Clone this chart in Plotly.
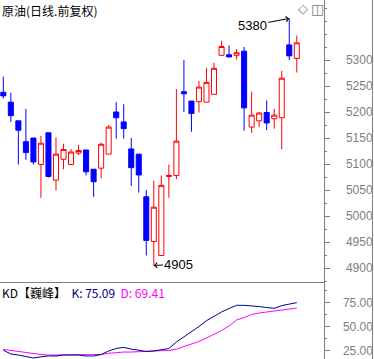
import plotly.graph_objects as go

# ---- data ----
bar_index = list(range(40))
open_prices = [5238, 5219, 5183, 5143, 5150, 5099, 5160, 5069, 5109, 5099,
               5121, 5127, 5090, 5092, 5119, 5200, 5181, 5129, 5119, 5037,
               4951, 4924, 5076, 5078, 5239, 5221, 5220, 5219, 5234, 5309,
               5310, 5309, 5317, 5171, 5183, 5199, 5187, 5189, 5329, 5303]
high_prices = [5268, 5237, 5183, 5206, 5150, 5154, 5160, 5151, 5139, 5129,
               5137, 5127, 5090, 5141, 5175, 5219, 5215, 5150, 5119, 5050,
               5068, 5078, 5099, 5244, 5300, 5221, 5260, 5285, 5295, 5337,
               5328, 5321, 5325, 5239, 5200, 5222, 5206, 5279, 5380, 5347]
low_prices = [5226, 5181, 5099, 5108, 5099, 5035, 5074, 5049, 5090, 5099,
              5117, 5078, 5037, 5072, 5119, 5149, 5149, 5058, 5045, 4924,
              4905, 4924, 5035, 5071, 5200, 5162, 5199, 5219, 5234, 5309,
              5305, 5301, 5164, 5160, 5171, 5165, 5168, 5128, 5300, 5276]
close_prices = [5231, 5193, 5165, 5122, 5104, 5140, 5076, 5119, 5128, 5123,
                5126, 5085, 5066, 5138, 5171, 5189, 5168, 5093, 5079, 4953,
                5017, 5059, 5078, 5144, 5235, 5197, 5248, 5257, 5284, 5326,
                5306, 5314, 5208, 5194, 5198, 5179, 5194, 5265, 5308, 5333]
k_values = [25.5, 21.6, 20.5, 19.0, 17.4, 18.6, 19.5, 19.5, 20.5, 20.5,
            20.5, 19.5, 19.5, 21.0, 24.7, 27.3, 28.5, 26.7, 25.2, 24.2,
            24.7, 25.7, 27.3, 34.1, 39.3, 44.5, 50.2, 56.3, 61.1, 65.3,
            69.0, 72.3, 72.3, 71.9, 71.0, 70.0, 69.2, 72.0, 73.6, 75.09]
d_values = [26.4, 25.2, 24.2, 23.1, 22.0, 21.0, 20.5, 20.5, 20.5, 20.5,
            20.5, 20.5, 20.5, 21.0, 22.3, 23.1, 23.6, 23.6, 24.2, 24.2,
            24.7, 25.0, 25.2, 26.7, 29.4, 32.0, 34.6, 38.2, 41.9, 46.0,
            50.7, 57.0, 59.6, 62.7, 64.3, 65.3, 66.0, 66.9, 68.1, 69.41]
price_tick_values = [4900, 4950, 5000, 5050, 5100, 5150, 5200, 5250, 5300]
price_grid_values = [4900, 5000, 5100, 5200, 5300]
kd_tick_values = [25, 50, 75]
kd_grid_values = [25, 50]

title_text = "原油(日线.前复权)"
kd_name = "KD【巍峰】"

GRAY = "#808080"
NUM_FONT = "Arial, Liberation Sans, sans-serif"
CJK_FONT = "Noto Sans CJK SC, sans-serif"

fig = go.Figure()

fig.add_trace(go.Candlestick(
    x=bar_index, open=open_prices, high=high_prices, low=low_prices, close=close_prices,
    increasing=dict(line=dict(color="#FF0000", width=1), fillcolor="#FFFFFF"),
    decreasing=dict(line=dict(color="#0000FF", width=1), fillcolor="#0000FF"),
    whiskerwidth=0, xaxis="x", yaxis="y", showlegend=False, hoverinfo="skip",
))
fig.add_trace(go.Scatter(x=bar_index, y=d_values, mode="lines",
                         line=dict(color="#FF00FF", width=1), xaxis="x2", yaxis="y3",
                         showlegend=False, hoverinfo="skip"))
fig.add_trace(go.Scatter(x=bar_index, y=k_values, mode="lines",
                         line=dict(color="#000080", width=1), xaxis="x2", yaxis="y3",
                         showlegend=False, hoverinfo="skip"))

XDOM = [0, 323.5 / 374]
SPLIT = 1 - 282 / 359
x_range = [-0.44, 42.55]

fig.update_layout(
    width=374, height=359,
    margin=dict(l=0, r=0, t=0, b=0),
    paper_bgcolor="white", plot_bgcolor="white",
    boxgap=0.33, boxgroupgap=0,
    xaxis=dict(domain=XDOM, anchor="y", range=x_range, showticklabels=False,
               showgrid=False, zeroline=False, showline=True, linecolor=GRAY,
               linewidth=1, ticks="", rangeslider=dict(visible=False), fixedrange=True),
    xaxis2=dict(domain=XDOM, anchor="y3", range=x_range, matches="x", showticklabels=False,
                showgrid=False, zeroline=False, showline=False, ticks=""),
    yaxis=dict(domain=[SPLIT, 1], anchor="x", side="right", range=[4873.1, 5415.4],
               tickvals=price_tick_values, ticks="outside", ticklen=5, tickcolor=GRAY,
               showline=True, linecolor=GRAY, linewidth=1, showgrid=False, zeroline=False,
               tickfont=dict(family=NUM_FONT, size=12, color=GRAY), ticklabelstandoff=14,
               minor=dict(dtick=25, ticks="outside", ticklen=2, tickcolor=GRAY, showgrid=False)),
    yaxis2=dict(overlaying="y", anchor="x", side="right", range=[4873.1, 5415.4],
                tickvals=price_grid_values, showticklabels=False, ticks="",
                showgrid=True, gridcolor=GRAY, gridwidth=1, griddash="1px,3px",
                showline=False, zeroline=False),
    yaxis3=dict(domain=[0, SPLIT], anchor="x2", side="right", range=[16.35, 96.6],
                tickvals=kd_tick_values, tickformat=".2f", ticks="outside", ticklen=5,
                tickcolor=GRAY, showline=True, linecolor=GRAY, linewidth=1,
                showgrid=False, zeroline=False,
                tickfont=dict(family=NUM_FONT, size=12, color=GRAY), ticklabelstandoff=11,
                minor=dict(dtick=12.5, ticks="outside", ticklen=2, tickcolor=GRAY, showgrid=False)),
    yaxis4=dict(overlaying="y3", anchor="x2", side="right", range=[16.35, 96.6],
                tickvals=kd_grid_values, showticklabels=False, ticks="",
                showgrid=True, gridcolor=GRAY, gridwidth=1, griddash="1px,3px",
                showline=False, zeroline=False),
)

# highest / lowest markers derived from the data
hi_i = max(bar_index, key=lambda i: high_prices[i])
lo_i = min(bar_index, key=lambda i: low_prices[i])
annotations = [
    dict(text=title_text, xref="paper", yref="paper", x=0, y=1, xanchor="left", yanchor="top",
         showarrow=False, font=dict(family=CJK_FONT, size=12, color="black"), yshift=0),
    dict(text=f"{high_prices[hi_i]}", xref="x", yref="y", x=hi_i, y=high_prices[hi_i],
         showarrow=True, ax=-37, ay=7, arrowhead=4, arrowsize=1, arrowwidth=1,
         arrowcolor="black", font=dict(family=NUM_FONT, size=13, color="black")),
    dict(text=f"{low_prices[lo_i]}", xref="x", yref="y", x=lo_i, y=low_prices[lo_i],
         showarrow=True, ax=25, ay=-1, arrowhead=4, arrowsize=1, arrowwidth=1,
         arrowcolor="black", font=dict(family=NUM_FONT, size=13, color="black")),
    dict(text=(f"{kd_name}  <span style='color:#000080'>K: {k_values[-1]:.2f}</span> "
               f" <span style='color:#FF00FF'>D: {d_values[-1]:.2f}</span>"),
         xref="paper", yref="paper", x=0, y=SPLIT, xanchor="left", yanchor="top",
         showarrow=False, font=dict(family=CJK_FONT, size=12, color="black")),
    dict(text="◇", xref="paper", yref="paper", x=302.5 / 374, y=1,
         xanchor="center", yanchor="top", borderpad=0, showarrow=False,
         font=dict(family="DejaVu Sans", size=13, color=GRAY)),
    dict(text="◫", xref="paper", yref="paper", x=317 / 374, y=1,
         xanchor="center", yanchor="top", borderpad=0, showarrow=False,
         font=dict(family="DejaVu Sans", size=14, color=GRAY)),
]
fig.update_layout(annotations=annotations)
fig.add_shape(type="line", xref="paper", yref="paper", x0=372.5 / 374, x1=372.5 / 374,
              y0=0, y1=1, line=dict(color=GRAY, width=1))

fig.write_html("out.html", config={"displayModeBar": False},
               post_script="document.body.style.margin='0';")
